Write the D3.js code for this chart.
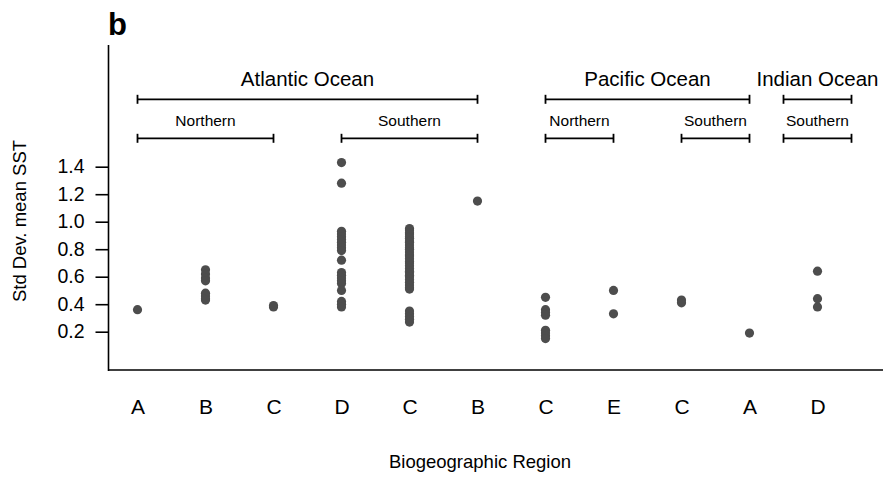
<!DOCTYPE html>
<html>
<head>
<meta charset="utf-8">
<script src="https://cdn.jsdelivr.net/npm/d3@7"></script>
<style>
  body { margin: 0; background: #fff; }
  svg { display: block; font-family: "Liberation Sans", Arial, Helvetica, sans-serif; }
</style>
</head>
<body>
<svg id="chart" width="883" height="479"></svg>
<script>
// ---- data ----
const categories = ["A", "B", "C", "D", "C", "B", "C", "E", "C", "A", "D"];
const values = [
  [0.36],
  [0.65, 0.62, 0.59, 0.57, 0.48, 0.46, 0.44, 0.43],
  [0.38, 0.39],
  [1.43, 1.28, 0.93, 0.91, 0.89, 0.87, 0.85, 0.83, 0.81, 0.79, 0.72, 0.63, 0.61, 0.59, 0.57, 0.55, 0.50, 0.42, 0.40, 0.38],
  [0.95, 0.94, 0.92, 0.91, 0.89, 0.88, 0.86, 0.85, 0.83, 0.81, 0.80, 0.78, 0.76, 0.75, 0.73, 0.71, 0.70, 0.68, 0.66, 0.64, 0.63, 0.61, 0.60, 0.58, 0.56, 0.54, 0.52, 0.51, 0.35, 0.33, 0.31, 0.29, 0.27],
  [1.15],
  [0.45, 0.36, 0.34, 0.32, 0.21, 0.19, 0.17, 0.15],
  [0.50, 0.33],
  [0.43, 0.41],
  [0.19],
  [0.64, 0.44, 0.38]
];
const yTicks = [0.2, 0.4, 0.6, 0.8, 1.0, 1.2, 1.4];
const oceans = [
  { label: "Atlantic Ocean", from: 0, to: 5 },
  { label: "Pacific Ocean", from: 6, to: 9 },
  { label: "Indian Ocean", from: 9.5, to: 10.5 }
];
const hemispheres = [
  { label: "Northern", from: 0, to: 2 },
  { label: "Southern", from: 3, to: 5 },
  { label: "Northern", from: 6, to: 7 },
  { label: "Southern", from: 8, to: 9 },
  { label: "Southern", from: 9.5, to: 10.5 }
];
const panelLabel = "b";
const xTitle = "Biogeographic Region";
const yTitle = "Std Dev. mean SST";

// ---- drawing ----
const svg = d3.select("#chart");
const x = d3.scaleLinear().domain([0, categories.length - 1]).range([137.5, 817.5]);
const y = d3.scaleLinear().domain([0.2, 1.4]).range([331.7, 166.7]);
const axisX0 = 108.5, axisYBottom = 370, axisYTop = 45;

// axes lines
svg.append("line").attr("x1", axisX0).attr("x2", axisX0).attr("y1", axisYTop).attr("y2", axisYBottom + 1)
  .attr("stroke", "#000").attr("stroke-width", 1.6);
svg.append("line").attr("x1", axisX0).attr("x2", 883).attr("y1", axisYBottom).attr("y2", axisYBottom)
  .attr("stroke", "#000").attr("stroke-width", 1.6);

// y axis ticks
const yAxis = d3.axisLeft(y).tickValues(yTicks).tickFormat(d3.format(".1f")).tickSize(13).tickPadding(11);
const gy = svg.append("g").attr("transform", `translate(${axisX0},0)`).call(yAxis);
gy.select(".domain").remove();
gy.selectAll(".tick line").attr("stroke", "#000").attr("stroke-width", 1.6);
gy.selectAll(".tick text").attr("font-size", 19.5).attr("fill", "#000")
  .attr("font-family", "Liberation Sans, Arial, sans-serif");

// x category labels
const xAxis = d3.axisBottom(x).tickValues(d3.range(categories.length)).tickFormat(i => categories[i]).tickSize(0).tickPadding(29);
const gx = svg.append("g").attr("transform", `translate(0,${axisYBottom})`).call(xAxis);
gx.select(".domain").remove();
gx.selectAll(".tick text").attr("font-size", 21).attr("fill", "#000")
  .attr("font-family", "Liberation Sans, Arial, sans-serif");

// points
const pts = [];
values.forEach((arr, i) => arr.forEach(v => pts.push({ i, v })));
svg.append("g").selectAll("circle").data(pts).join("circle")
  .attr("cx", d => x(d.i)).attr("cy", d => y(d.v)).attr("r", 4.6)
  .attr("fill", "#4d4d4d");

// brackets
function bracket(list, lineY, textY, fontSize) {
  const g = svg.append("g");
  list.forEach(d => {
    const x1 = x(d.from), x2 = x(d.to);
    g.append("line").attr("x1", x1).attr("x2", x2).attr("y1", lineY).attr("y2", lineY)
      .attr("stroke", "#000").attr("stroke-width", 1.8);
    [x1, x2].forEach(xx => g.append("line").attr("x1", xx).attr("x2", xx)
      .attr("y1", lineY - 4.5).attr("y2", lineY + 4.5).attr("stroke", "#000").attr("stroke-width", 1.8));
    g.append("text").attr("x", (x1 + x2) / 2).attr("y", textY).attr("text-anchor", "middle")
      .attr("font-size", fontSize).attr("fill", "#000").text(d.label);
  });
}
bracket(oceans, 99.3, 85.5, 20.5);
bracket(hemispheres, 138.3, 126, 15.5);

// titles
svg.append("text").attr("x", 480).attr("y", 468).attr("text-anchor", "middle")
  .attr("font-size", 18.5).attr("fill", "#000").text(xTitle);
svg.append("text").attr("transform", "translate(26,221) rotate(-90)").attr("text-anchor", "middle")
  .attr("font-size", 18.5).attr("fill", "#000").text(yTitle);
svg.append("text").attr("x", 108).attr("y", 35).attr("font-size", 31).attr("font-weight", "bold")
  .attr("fill", "#000").text(panelLabel);
</script>
</body>
</html>
